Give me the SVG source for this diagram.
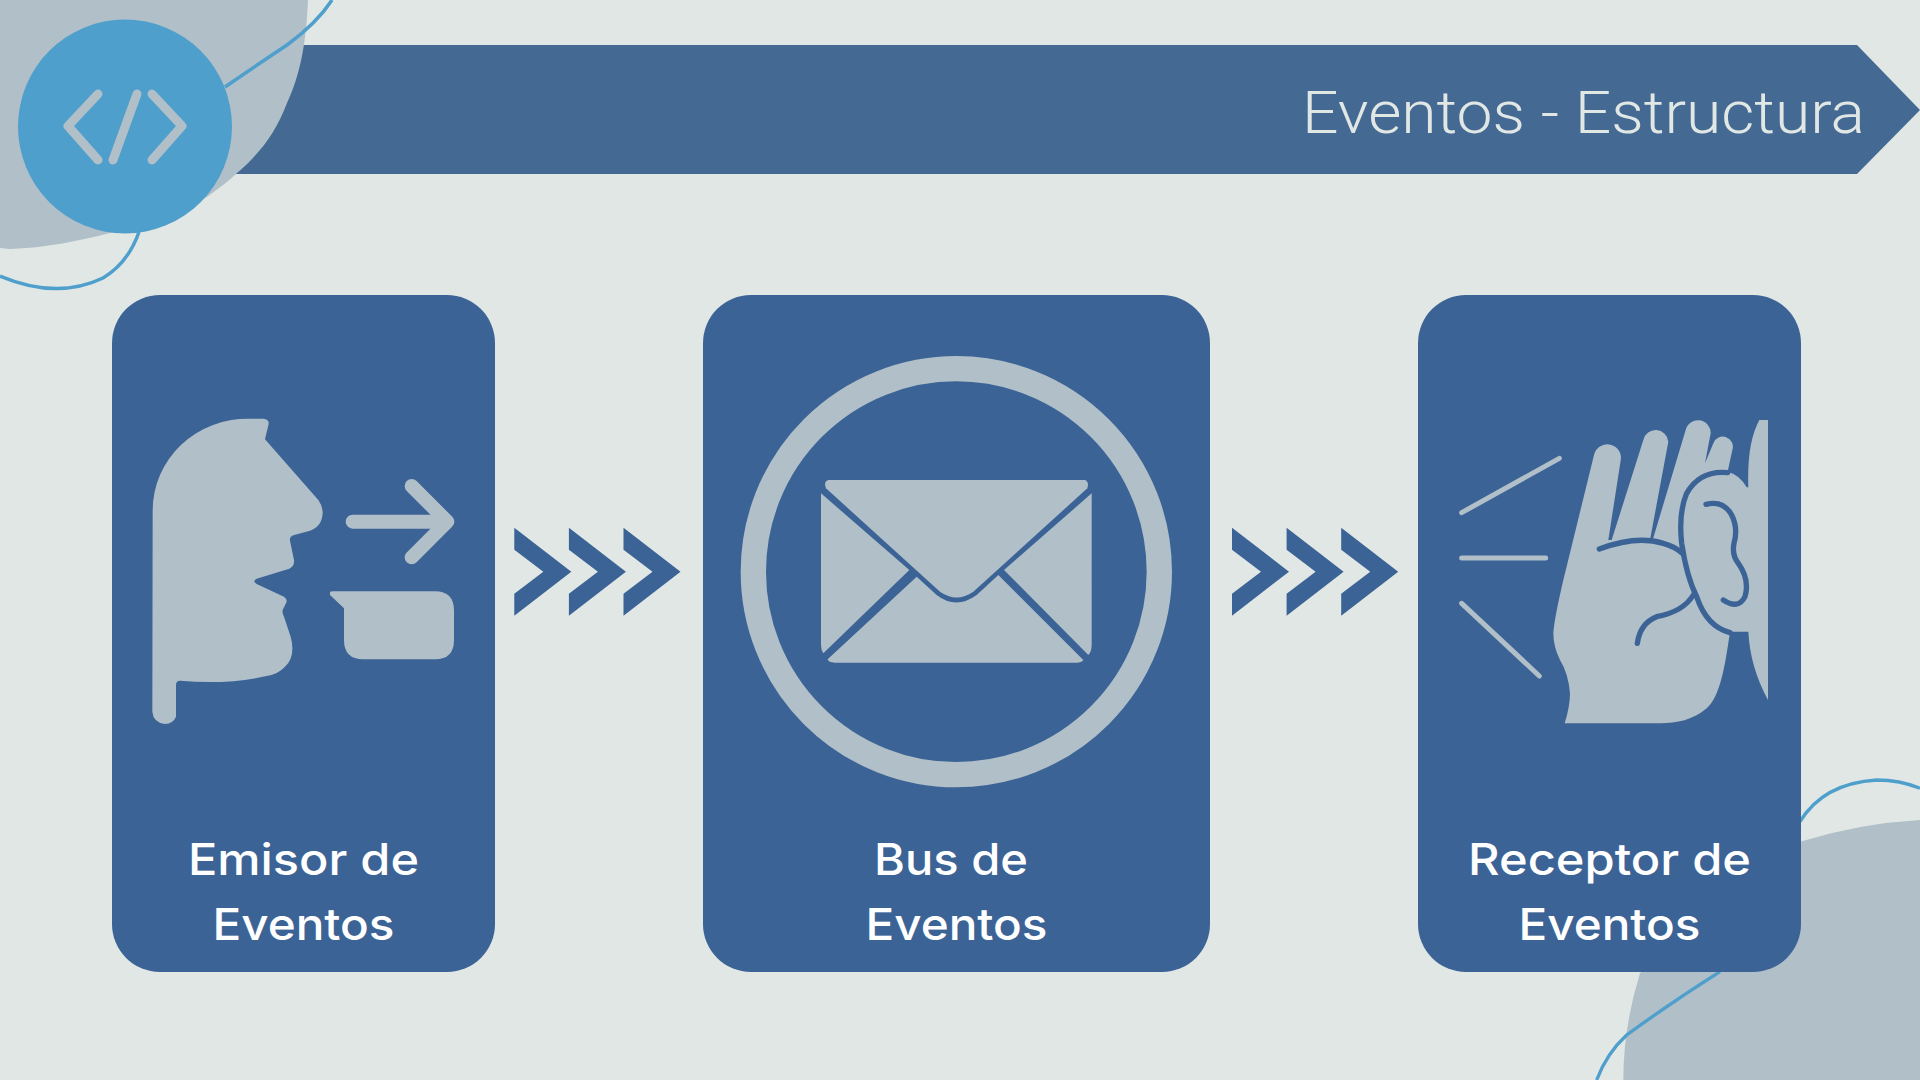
<svg xmlns="http://www.w3.org/2000/svg" width="1920" height="1080" viewBox="0 0 1920 1080">
<style>
.card{fill:#3b6396}
.lt{fill:#b0bfc8}
.ln{fill:none;stroke:#4f9fcd;stroke-width:3.500}
.lab{font-family:Inter,"Open Sans",sans-serif;font-weight:450;font-size:44px;fill:#fff;text-anchor:middle}
.hs{fill:none;stroke:#3b6396;stroke-width:16;stroke-linecap:round;stroke-linejoin:round}
</style>
<defs>
<path id="ch" fill="#3b6396" d="M0 0L57 44L0 88V66L29 44L0 22Z"/>
<g id="triple"><use href="#ch"/><use href="#ch" x="54.600"/><use href="#ch" x="109.200"/></g>
</defs>
<rect width="1920" height="1080" fill="#e1e7e4"/>
<g id="banner">
<path d="M200 45H1857L1920 110L1857 174H200Z" fill="#446993"/>
<text x="1865" y="133" text-anchor="end" font-family="Roboto,sans-serif" font-weight="300" font-size="60" fill="#e1e7e4" textLength="563" lengthAdjust="spacingAndGlyphs">Eventos - Estructura</text>
</g>
<g id="decor-top">
<path class="lt" d="M0 0H308C306 45 300 75 287 103C275 135 258 155 237 173C228 182 217 189 207 197C178 214 145 226 110 233C78 241 45 248 10 249L0 248Z"/>
<path class="ln" d="M332 0Q317 23 287 45Q260 63 225 87"/>
<path class="ln" d="M139 232Q128 263 103 278Q57 300 0 276"/>
</g>
<g id="decor-bottom" transform="translate(1560 760) scale(.33333)">
<path class="lt" d="M190 960Q190 800 240 640L720 245Q900 190 1080 180V960Z"/>
<path class="ln" style="stroke-width:10" d="M110 960Q140 880 200 825Q330 730 480 635"/>
<path class="ln" style="stroke-width:10" d="M720 185Q790 70 950 60Q1020 60 1080 85"/>
</g>
<g id="logo">
<circle cx="125" cy="126.500" r="107" fill="#4f9fcd"/>
<path d="M98 94L68 126L98 160M137 94L113 160M152 94L182 126L152 160" fill="none" stroke="#b0bfc8" stroke-width="9" stroke-linecap="round" stroke-linejoin="round"/>
</g>
<g id="connectors">
<use href="#triple" x="514.300" y="527.700"/>
<use href="#triple" x="1232" y="527.700"/>
</g>
<g id="node-emisor">
<rect class="card" x="112" y="295" width="383" height="677" rx="48"/>
<g transform="translate(130 400) scale(.33333)">
<path class="lt" d="M68 330A285 275 0 0 1 360 56L400 56Q418 58 416 72L405 118L565 300Q578 318 578 340Q576 380 540 392L490 406Q478 410 480 422L492 480Q494 498 478 506L380 536Q366 544 380 552L462 590Q474 598 468 610L458 630Q456 640 462 650L482 710Q498 770 465 800Q445 822 410 828Q290 855 150 842Q138 842 138 855L138 950Q130 970 105 972Q70 968 67 935Z"/>
<path d="M668 365H950M845 258L952 365L845 472" fill="none" stroke="#b0bfc8" stroke-width="42" stroke-linecap="round" stroke-linejoin="round"/>
<path class="lt" d="M600 578Q600 574 610 574L915 574Q972 574 972 632L972 720Q972 778 915 778L700 778Q642 778 642 720L642 625L600 585Z"/>
</g>
<text class="lab" x="303.500" y="875" textLength="231" lengthAdjust="spacingAndGlyphs">Emisor de</text>
<text class="lab" x="303.500" y="940" textLength="182" lengthAdjust="spacingAndGlyphs">Eventos</text>
</g>
<g id="node-bus">
<rect class="card" x="703" y="295" width="507" height="677" rx="48"/>
<g transform="translate(720 340) scale(.33333)">
<circle cx="709" cy="695" r="609" fill="none" stroke="#b0bfc8" stroke-width="76"/>
<path class="lt" d="M325 420H1095Q1108 425 1102 445L760 755Q710 790 660 755L318 445Q310 425 325 420Z"/>
<path class="lt" d="M303 460L568 690L310 940Q303 930 303 915Z"/>
<path class="lt" d="M1115 460L852 690L1105 945Q1115 935 1115 915Z"/>
<path class="lt" d="M590 710L650 765Q708 810 770 765L835 705L1090 960Q1085 968 1070 968H345Q325 968 323 958Z"/>
</g>
<text class="lab" x="951" y="875" textLength="154" lengthAdjust="spacingAndGlyphs">Bus de</text>
<text class="lab" x="956.500" y="940" textLength="182" lengthAdjust="spacingAndGlyphs">Eventos</text>
</g>
<g id="node-receptor">
<rect class="card" x="1418" y="295" width="383" height="677" rx="48"/>
<g transform="translate(1430 400) scale(.33333)">
<path class="lt" d="M404 970Q420 920 420 880Q415 820 390 780Q370 740 370 700Q372 660 400 540L492 165A41 41 0 0 1 573 175L535 420H545L640 120A38 38 0 0 1 715 125L660 420H668L767 90A38 38 0 0 1 842 100L825 190L850 130A29 29 0 0 1 907 150L893 215Q930 225 950 262L955 262Q950 130 988 60H1014V900Q960 800 955 695H900C885 800 870 890 830 925C790 960 740 970 690 970Z"/>
<path class="hs" d="M893 218Q810 210 770 280Q745 340 755 430Q770 530 800 590Q830 680 900 698"/>
<path class="hs" d="M828 313Q880 300 905 345Q925 385 912 430Q905 465 925 490Q960 540 945 590Q925 630 880 600"/>
<path class="hs" d="M508 447Q620 405 700 430Q735 440 755 458"/>
<path class="hs" d="M622 730Q630 670 680 650Q760 635 790 585"/>
<path d="M95 338L388 175M95 474H347M95 610L328 828" fill="none" stroke="#b0bfc8" stroke-width="15" stroke-linecap="round"/>
</g>
<text class="lab" x="1609.500" y="875" textLength="283" lengthAdjust="spacingAndGlyphs">Receptor de</text>
<text class="lab" x="1609.500" y="940" textLength="182" lengthAdjust="spacingAndGlyphs">Eventos</text>
</g>
</svg>
